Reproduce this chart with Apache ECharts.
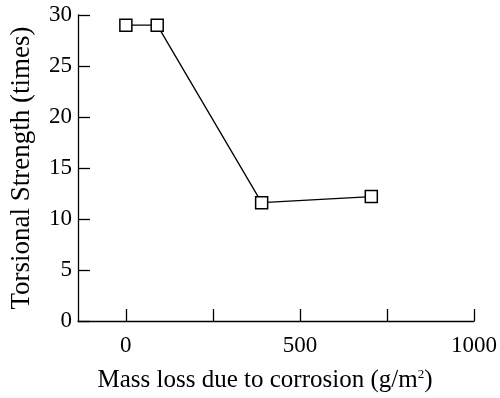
<!DOCTYPE html>
<html><head><meta charset="utf-8">
<script src="https://cdn.jsdelivr.net/npm/echarts@6/dist/echarts.min.js"></script>
<style>html,body{margin:0;padding:0;background:#fff}#c{width:500px;height:398px}</style>
</head><body><div id="c"></div>
<script>
const massLoss = [0, 90, 390, 705];
const strength = [29, 29, 11.6, 12.2];
const xTickValues = [0, 250, 500, 750, 1000];
const xLabelValues = [0, 500, 1000];
const yTickLabels = [0, 5, 10, 15, 20, 25, 30];

const font = 'Liberation Serif';
const chart = echarts.init(document.getElementById('c'), null, {renderer: 'canvas'});
chart.setOption({
  animation: false,
  backgroundColor: '#fff',
  grid: {left: 78, right: 26, top: 15, bottom: 66, containLabel: false},
  xAxis: {
    type: 'value', min: -137.5, max: 1000,
    axisLine: {onZero: false, lineStyle: {color: '#000', width: 1.3}},
    axisTick: {inside: true, length: 12, customValues: xTickValues, lineStyle: {color: '#000', width: 1.3}},
    axisLabel: {customValues: xLabelValues, formatter: v => String(v), color: '#000', fontFamily: font, fontSize: 23, margin: 13},
    splitLine: {show: false},
    name: '{t|Mass loss due to corrosion (g/m}{s|2}{t|)}',
    nameLocation: 'middle', nameGap: 47,
    nameTextStyle: {padding: [0, 22, 0, 0], rich: {
      t: {fontFamily: font, fontSize: 25, color: '#000'},
      s: {fontFamily: font, fontSize: 13, color: '#000', verticalAlign: 'top', padding: [0,0,8,0]}
    }}
  },
  yAxis: {
    type: 'value', min: 0, max: 30, interval: 5,
    axisLine: {show: true, onZero: false, lineStyle: {color: '#000', width: 1.3}},
    axisTick: {show: true, inside: true, length: 12, lineStyle: {color: '#000', width: 1.3}},
    axisLabel: {formatter: v => String(v), color: '#000', fontFamily: font, fontSize: 23, margin: 6},
    splitLine: {show: false},
    name: 'Torsional Strength (times)', nameLocation: 'middle', nameGap: 43,
    nameTextStyle: {fontFamily: font, fontSize: 27, color: '#000'}
  },
  series: [{
    type: 'line',
    data: massLoss.map((x, i) => [x, strength[i]]),
    symbol: 'rect', symbolSize: 12,
    itemStyle: {color: '#fff', borderColor: '#000', borderWidth: 1.5},
    lineStyle: {color: '#000', width: 1.3}
  }]
});
</script></body></html>
